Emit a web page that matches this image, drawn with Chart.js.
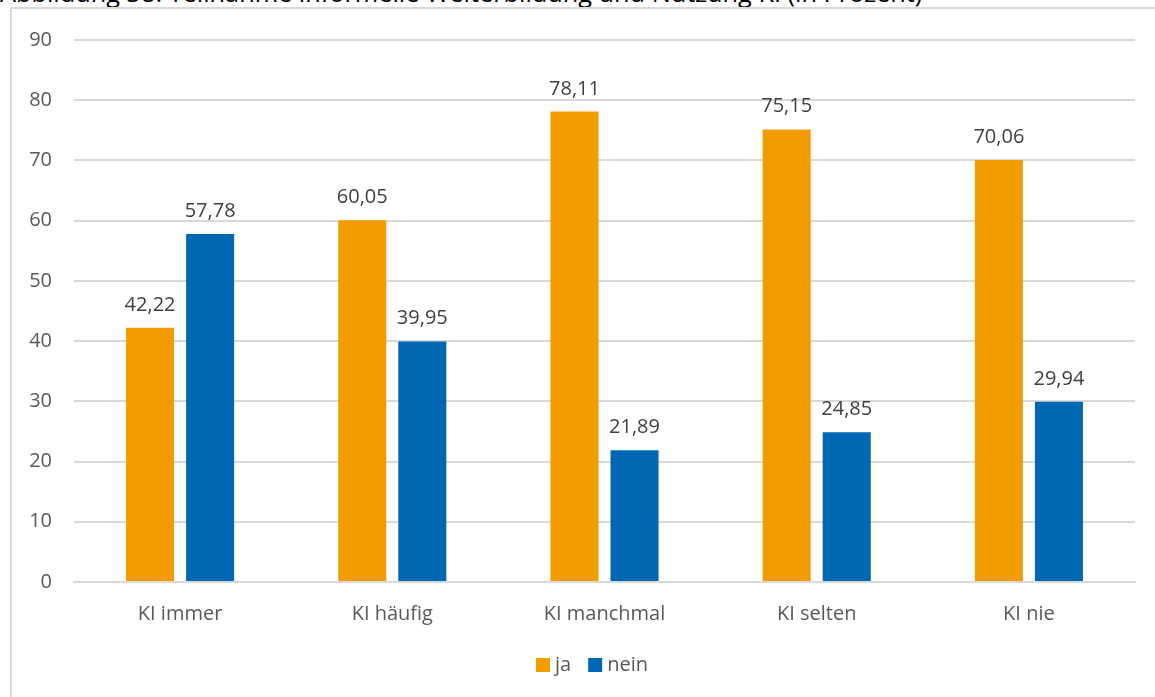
<!DOCTYPE html>
<html lang="de">
<head>
<meta charset="utf-8">
<title>Teilnahme informelle Weiterbildung und Nutzung KI</title>
<script src="https://cdn.jsdelivr.net/npm/chart.js@4"></script>
<style>
  html, body { margin: 0; padding: 0; background: #fff; overflow: hidden; }
  body { width: 1155px; height: 697px; position: relative; }
  #caption {
    position: absolute; left: 0; top: -25px;
    font-family: "Open Sans", sans-serif; font-size: 25.3px; color: #000;
    white-space: nowrap;
  }
  #frame {
    position: absolute; left: 10px; top: 7px; width: 1200px; height: 760px;
    border: 2px solid #d9d9d9; box-sizing: border-box;
  }
  #wrap { position: absolute; left: 0; top: 0; width: 1155px; height: 697px; }
</style>
</head>
<body>
<div id="caption">Abbildung 38: Teilnahme informelle Weiterbildung und Nutzung KI (in Prozent)</div>
<div id="frame"></div>
<div id="wrap"><canvas id="chart"></canvas></div>
<script>
// Anteile in Prozent je KI-Nutzungsgruppe
const categories = ['KI immer', 'KI häufig', 'KI manchmal', 'KI selten', 'KI nie'];
const jaValues = [42.22, 60.05, 78.11, 75.15, 70.06];
const neinValues = [57.78, 39.95, 21.89, 24.85, 29.94];
const yTicks = [0, 10, 20, 30, 40, 50, 60, 70, 80, 90];

const FONT = '"Open Sans", sans-serif';
const TEXT = '#595959';

// Werte über den Balken, mit Dezimalkomma
const valueLabels = {
  id: 'valueLabels',
  afterDatasetsDraw(chart) {
    const ctx = chart.ctx;
    ctx.save();
    ctx.font = '20px ' + FONT;
    ctx.fillStyle = '#404040';
    ctx.textAlign = 'center';
    ctx.textBaseline = 'alphabetic';
    chart.data.datasets.forEach((ds, i) => {
      chart.getDatasetMeta(i).data.forEach((bar, j) => {
        const txt = ds.data[j].toFixed(2).replace('.', ',');
        ctx.fillText(txt, bar.x, bar.y - 17);
      });
    });
    ctx.restore();
  }
};

// kompakte Legende unter dem Diagramm, zur Rahmenmitte ausgerichtet
const bottomLegend = {
  id: 'bottomLegend',
  afterDraw(chart) {
    const ctx = chart.ctx;
    const box = 14, gap = 5, space = 17, cy = 665;
    ctx.save();
    ctx.font = '20px ' + FONT;
    ctx.textBaseline = 'middle';
    const items = chart.data.datasets.map(ds => ({
      label: ds.label, color: ds.backgroundColor, w: ctx.measureText(ds.label).width
    }));
    const total = items.reduce((s, it) => s + box + gap + it.w, 0) + space * (items.length - 1);
    let x = 592 - total / 2;
    items.forEach(it => {
      ctx.fillStyle = it.color;
      ctx.fillRect(x, cy - box / 2, box, box);
      x += box + gap;
      ctx.fillStyle = TEXT;
      ctx.fillText(it.label, x, cy);
      x += it.w + space;
    });
    ctx.restore();
  }
};

new Chart(document.getElementById('chart'), {
  type: 'bar',
  data: {
    labels: categories,
    datasets: [
      { label: 'ja', data: jaValues, backgroundColor: '#f39c00',
        barPercentage: 0.8, categoryPercentage: 0.566 },
      { label: 'nein', data: neinValues, backgroundColor: '#0068b3',
        barPercentage: 0.8, categoryPercentage: 0.566 }
    ]
  },
  options: {
    responsive: true,
    maintainAspectRatio: false,
    animation: false,
    layout: { padding: { top: 40, right: 20, left: 0, bottom: 55 } },
    plugins: {
      legend: { display: false },
      tooltip: { enabled: false }
    },
    scales: {
      x: {
        grid: { display: false, drawTicks: false },
        border: { color: '#d9d9d9', width: 2 },
        ticks: { font: { family: FONT, size: 20 }, color: TEXT, padding: 20 },
        afterFit(scale) { scale.height = 60; }
      },
      y: {
        min: 0,
        max: 90,
        afterBuildTicks(scale) { scale.ticks = yTicks.map(v => ({ value: v })); },
        grid: { color: '#d9d9d9', lineWidth: 2, drawTicks: false },
        border: { display: false },
        ticks: { font: { family: FONT, size: 20 }, color: TEXT, padding: 22 },
        afterFit(scale) { scale.width = 74; }
      }
    }
  },
  plugins: [valueLabels, bottomLegend]
});
</script>
</body>
</html>
